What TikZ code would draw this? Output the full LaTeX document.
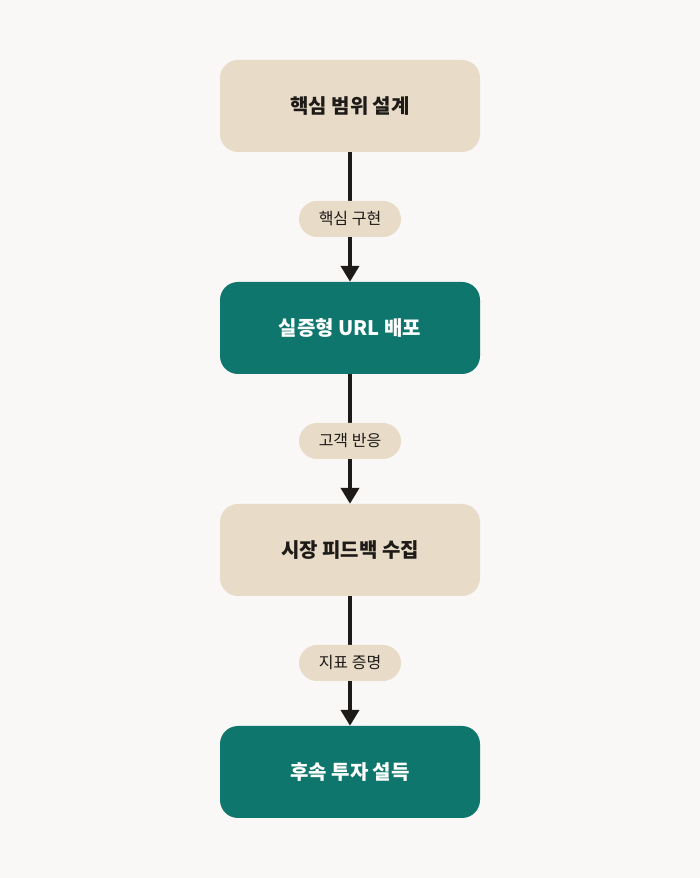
\documentclass[tikz,border=0pt]{standalone}
\usepackage{fontspec}
\setmainfont{Noto Sans CJK KR}
\usetikzlibrary{arrows.meta}
\definecolor{bg}{HTML}{F9F8F6}
\definecolor{beige}{HTML}{E8DCC9}
\definecolor{teal}{HTML}{0F766E}
\definecolor{ink}{HTML}{1E1A18}
\begin{document}
\begin{tikzpicture}[x=1pt,y=1pt,
  box/.style={rounded corners=18pt,minimum width=260pt,minimum height=92pt,inner sep=0pt,font=\fontsize{20}{24}\selectfont\bfseries},
  light/.style={box,fill=beige,text=ink},
  dark/.style={box,fill=teal,text=white},
  pill/.style={rounded corners=18pt,fill=beige,text=ink,minimum width=102pt,minimum height=36pt,inner sep=0pt,font=\fontsize{16}{19}\selectfont},
  conn/.style={draw=ink,line width=4pt,-{Triangle[length=16pt,width=18pt]}}]
\fill[bg] (0,0) rectangle (700,878);
\node[light] (a) at (350,772) {핵심 범위 설계};
\node[dark]  (b) at (350,550) {실증형 URL 배포};
\node[light] (c) at (350,328) {시장 피드백 수집};
\node[dark]  (d) at (350,106) {후속 투자 설득};
\draw[conn] (a) -- (b) node[pill,midway,yshift=-2pt] (l1) {핵심 구현};
\draw[conn] (b) -- (c) node[pill,midway,yshift=-2pt] (l2) {고객 반응};
\draw[conn] (c) -- (d) node[pill,midway,yshift=-2pt] (l3) {지표 증명};
\end{tikzpicture}
\end{document}
